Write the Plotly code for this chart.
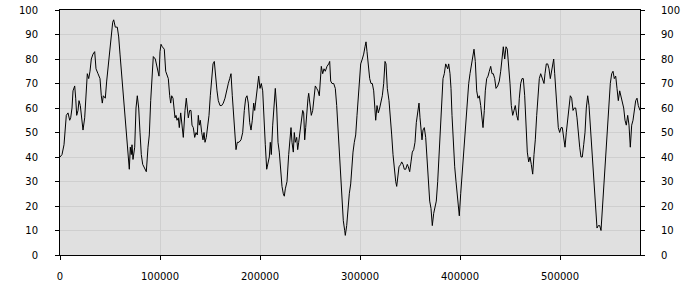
import plotly.graph_objects as go

x_k = [0, 2, 4, 5.3, 6.3, 8, 9.7, 10.7, 12, 13, 14.7, 15.7, 16.7, 18, 19, 20.3, 21.3, 23, 24.7, 26,
       27.3, 28.7, 30, 31.3, 33, 34.7, 36, 38, 40, 41.3, 42.3, 43.3, 45.3, 46.7, 48.7, 50, 51.3, 52.7,
       53.7, 55.3, 57.3, 58.7, 60, 61.3, 63, 64.7, 66.3, 67.3, 68.7, 69.3, 70.3, 71.3, 72, 73, 74.7,
       76, 77.3, 78.7, 80, 81.3, 82.7, 84, 85.3, 86.3, 88, 89.3, 90.7, 92, 93.3, 95.3,
       97.7, 99, 100, 101, 102.3, 104.3, 105.7, 107, 108.3, 109.7, 110.7, 111.7, 113, 114, 115, 116,
       117, 118.3, 119.3, 120.7, 121.7, 123.3, 125, 126.3, 127.3, 128.3, 129.7, 131, 132, 133.3,
       134.7, 136, 137.3, 138.3, 139.3, 140.3, 141.7, 143, 144, 145, 146.3, 147.7, 149, 150.3, 151.7,
       153, 154.3, 155.7, 157, 158.3, 160, 161.7, 163.3, 165, 166.7, 168.3, 169.7, 171, 172.3, 173.7,
       175, 176, 177.3, 179, 181, 182.7, 184.3, 185.7, 187, 188.3, 189.7, 191, 192.3,
       193.7, 194.7, 196, 197, 198.7, 200, 201.3, 202.7, 204, 205.3, 206.7, 208, 209.3, 210.3, 211.3,
       212.7, 214, 215.3, 216.7, 218, 219.3, 220.7, 222, 223.3, 224.3, 225.3, 227, 228.7, 229.7, 231,
       232, 233.3, 234.3, 235.3, 236.7, 237.7, 238.7, 240, 241.3, 242.7, 243.7, 244.7, 245.7, 247,
       248, 248.7, 250, 251.3, 252.7, 254, 255.3, 256.7, 258, 259.3, 260.3, 261.3, 262.7, 264, 265.3,
       267, 268.7, 269.7, 270.7, 272, 273.7, 275.3, 276.7, 278, 279.3, 280.7, 282, 283.3, 284.7,
       285.3, 286.7, 288, 289.3,
       290.7, 291.7, 293, 294.3, 295.7, 297, 298.3, 299.7, 300.7, 302.3, 303.7, 305, 306, 307, 308.3,
       309.7, 311, 312.3, 313.7, 314.7, 315.7, 317, 318.3, 319.7, 321, 322.3, 323.7, 325, 326, 327.3,
       329, 330.3, 331.7, 333, 334.3, 335.7, 336.7, 338, 339, 340.7, 341.7, 343, 344.3, 345.7, 347.3,
       348.3, 349.7, 351, 352.3, 353.7, 355, 356.3, 357.7, 359, 360, 361, 362, 363, 364.3, 365.7, 367,
       368.3, 369.7, 371, 372.3, 373.7, 375, 376.3, 377.7, 379, 380.3, 381.7, 383, 384.3, 385.7,
       387.7, 388.7, 390, 391, 392, 393.3, 394.7, 396, 397.3, 398.7, 399.3, 400.7, 402, 403.3, 404.7,
       406, 407.3, 408.7, 410, 411.3, 412.7, 414, 415.3, 416.7, 418, 419.3, 420.7, 422, 423, 424.3,
       425.3, 426.7, 428, 429.3, 430.7, 432, 433.3, 434.7, 436, 437.7, 439.3, 440.7, 442, 443.3, 444.7,
       446, 447.3, 448.7, 450, 451.3, 452.7, 454, 455.3, 456.7, 458, 459.3, 460.7, 462, 463.3, 464.7,
       466, 467.3, 468.7, 470, 471.3, 472.7, 474, 475.3, 476.7, 478, 479.3, 480.7, 482,
       484, 485, 486.3, 487.7, 489, 490.3, 491.7, 493, 493.7, 494.7, 496, 497, 498.3, 499.7, 501,
       502.3, 503.7, 505, 506.3, 507.7, 509, 510.3, 511.7, 513, 514.3, 515.7, 517, 518.3, 519.7, 521,
       522.3, 523.7, 525, 526.3, 527.7, 529, 530.3, 531.7, 533, 534.3, 535.7, 537, 538.3, 539.7, 541,
       542.3, 543.7, 545, 546.3, 547.7, 549, 550.3, 551.7, 553, 554.3, 555.7, 557, 558.3, 559.7, 561,
       562.3, 563.7, 565, 566.3, 567.7, 569, 570.3, 571.7, 573, 574.3, 575.7, 577, 578.3, 580]

values = [40, 41, 45, 55, 57, 58, 55, 56, 60, 67, 69, 64, 57, 59, 63, 61, 57, 51, 56, 63,
          74, 72, 75, 80, 82, 83, 76, 74, 72, 65, 62, 65, 64, 71, 79, 86, 91, 95,
          96, 93, 93, 89, 82, 75, 68, 60, 50, 42, 37, 35, 44, 41, 45, 39, 44,
          60, 65, 60, 50, 41, 37, 36, 35, 34, 44, 49, 63, 71, 81, 80,
          76, 73, 83, 86, 85, 84, 75, 73, 72, 65, 62, 65, 64, 60, 56, 57,
          55, 56, 52, 58, 53, 48, 59, 64, 60, 56, 59, 59, 53, 52,
          48, 50, 49, 57, 53, 55, 50, 47, 50, 46, 48, 52, 57, 65, 71,
          78, 79, 72, 67, 63, 61, 61, 62, 64, 68, 70, 72, 74, 65, 57,
          46, 43, 46, 46, 47, 50, 59, 64, 65, 62, 54, 51, 55,
          62, 59, 64, 68, 73, 68, 70, 67, 52, 45, 35, 37, 40, 46, 41,
          53, 63, 68, 60, 46, 42, 34, 28, 25, 24, 27, 30, 41, 46, 52,
          46, 42, 50, 46, 48, 43, 46, 50, 55, 59, 58, 47, 52, 62,
          64, 66, 62, 57, 59, 64, 69, 68, 67, 65, 74, 77, 74, 76, 75,
          77, 78, 79, 71, 70, 70, 68, 61, 52, 41, 30, 20, 14, 10,
          8, 12, 19, 25,
          29, 36, 42, 46, 49, 57, 65, 71, 78, 80, 82, 85, 87, 83, 76,
          72, 70, 70, 67, 59, 55, 61, 58, 60, 62, 65, 70, 79, 78, 68,
          63, 57, 49, 41, 34, 30, 28, 32, 36, 37, 38, 37, 35, 35, 37,
          36, 34, 38, 42, 43, 46, 54, 59, 62, 56, 50, 47, 51, 52, 48, 38,
          27, 22, 19, 12, 17, 19, 22, 30, 42, 50, 61, 72, 74, 78,
          76, 78, 74, 68, 57, 46, 36, 30, 23, 19, 16, 25, 33, 40, 48,
          56, 65, 70, 74, 78, 82, 84, 79, 67, 64, 65, 61, 56, 52, 59,
          67, 72, 73, 75, 77, 74, 74, 72, 68, 69, 71, 75, 80, 85, 80,
          85, 84, 78, 70, 61, 57, 59, 61, 57, 55, 64, 70, 72, 72, 65,
          56, 42, 38, 40, 37, 33, 41, 47, 57, 67, 72, 74, 72,
          70, 74, 78, 78, 76, 72, 76, 78, 80, 74, 67, 59, 52, 50, 52,
          52, 48, 44, 50, 55, 60, 65, 64, 59, 60, 60, 56, 49, 44, 40,
          40, 45, 50, 60, 65, 61, 53, 44, 36, 27, 20, 11, 12, 12, 10,
          19, 27, 37, 46, 56, 64, 70, 74, 75, 72, 73, 68, 63, 67, 65,
          63, 60, 55, 53, 57, 53, 44, 53, 55, 60, 63, 64, 61, 59]

x_vals = [v * 1000 for v in x_k]

y_ticks = [0, 10, 20, 30, 40, 50, 60, 70, 80, 90, 100]
x_ticks = [0, 100000, 200000, 300000, 400000, 500000]

font = dict(family="DejaVu Sans", size=10, color="#000000")

fig = go.Figure()
fig.add_trace(go.Scatter(x=x_vals, y=values, mode="lines",
                         line=dict(color="#000000", width=1), showlegend=False,
                         hoverinfo="skip"))
fig.add_trace(go.Scatter(x=[x_vals[0]], y=[values[0]], yaxis="y2", mode="lines",
                         line=dict(width=0), showlegend=False, hoverinfo="skip"))

fig.update_layout(
    width=700, height=300,
    margin=dict(l=60, r=60, t=10, b=45, autoexpand=False),
    paper_bgcolor="#ffffff",
    plot_bgcolor="#e0e0e0",
    font=font,
    xaxis=dict(range=[0, 580000], tickvals=x_ticks, ticktext=[str(t) for t in x_ticks],
               showgrid=True, gridcolor="#cfcfcf", gridwidth=1, zeroline=False,
               showline=True, linecolor="#000000", linewidth=1, mirror=True,
               ticks="outside", ticklen=4, tickcolor="#000000", automargin=False,
               ticklabelstandoff=8, tickfont=font),
    yaxis=dict(range=[0, 100], tickvals=y_ticks, showgrid=True, gridcolor="#cfcfcf",
               gridwidth=1, zeroline=False, showline=True, linecolor="#000000",
               linewidth=1, ticks="outside", ticklen=4, tickcolor="#000000",
               automargin=False, ticklabelstandoff=15, tickfont=font),
    yaxis2=dict(range=[0, 100], tickvals=y_ticks, overlaying="y", side="right",
                showgrid=False, zeroline=False, showline=True, linecolor="#000000",
                linewidth=1, ticks="outside", ticklen=4, tickcolor="#000000",
                automargin=False, ticklabelstandoff=14, tickfont=font),
)

fig.write_html("out.html")
